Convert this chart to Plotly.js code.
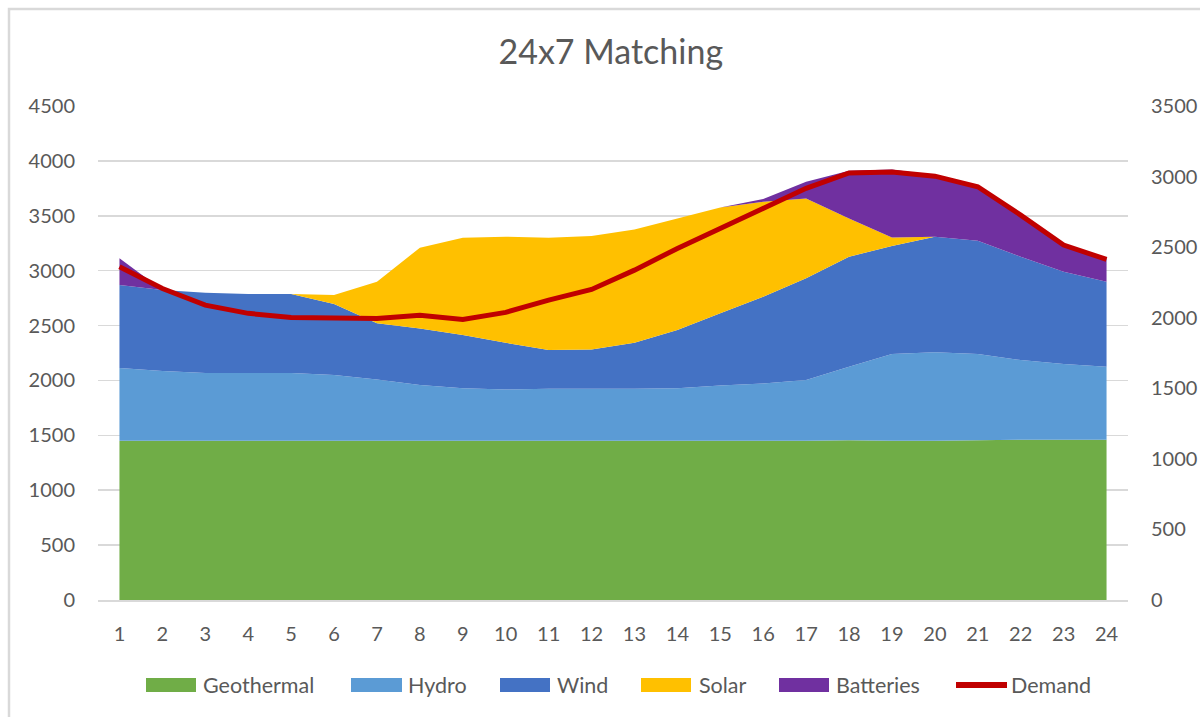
<!DOCTYPE html>
<html>
<head>
<meta charset="utf-8">
<script src="https://cdn.plot.ly/plotly-3.0.1.min.js"></script>
<style>html,body{margin:0;padding:0;background:#fff;}#chart{width:1200px;height:717px;}</style>
</head>
<body>
<div id="chart"></div>
<script>
const hours = [1,2,3,4,5,6,7,8,9,10,11,12,13,14,15,16,17,18,19,20,21,22,23,24];
const geothermal = [1450,1450,1450,1450,1450,1450,1450,1450,1450,1450,1450,1450,1450,1450,1450,1450,1450,1455,1450,1450,1455,1460,1460,1460];
const hydro = [663,635,617,617,617,599,558,508,480,468,474,474,474,480,505,523,554,670,790,806,785,726,689,665];
const wind = [756,738,732,720,720,647,514,516,483,425,353,359,419,529,656,789,926,1002,984,1053,1032,941,841,774];
const solar = [0,0,0,0,0,82,377,735,887,966,1023,1032,1033,1017,965,865,728,349,79,0,0,0,0,0];
const batteries = [243,0,0,0,0,0,0,0,0,0,0,0,0,0,0,25,151,434,619,561,507,379,259,213];
const demand = [2361,2207,2089,2031,2002,1995,1995,2018,1988,2038,2125,2200,2337,2491,2633,2784,2917,3026,3032,3003,2928,2727,2515,2413];
const leftTicks = [0,500,1000,1500,2000,2500,3000,3500,4000,4500];
const rightTicks = [0,500,1000,1500,2000,2500,3000,3500];

const series = [
  {name:'Geothermal', y:geothermal, color:'#70AD47'},
  {name:'Hydro', y:hydro, color:'#5B9BD5'},
  {name:'Wind', y:wind, color:'#4472C4'},
  {name:'Solar', y:solar, color:'#FFC000'},
  {name:'Batteries', y:batteries, color:'#7030A0'}
];

const traces = series.map(s => ({
  type:'scatter', x:hours, y:s.y, name:s.name, stackgroup:'one',
  mode:'none', fillcolor:s.color, line:{width:0}, showlegend:false,
  hoverinfo:'x+y+name'
}));
traces.push({
  type:'scatter', x:hours, y:demand, name:'Demand', yaxis:'y2', mode:'lines',
  line:{color:'#C00000', width:5, shape:'linear'}, showlegend:false
});

// plot area in pixels
const L = 98, R = 1128, T = 106, B = 600;
const px = x => (x - L) / (R - L);
const py = y => (B - y) / (B - T);

const legendItems = [
  {name:'Geothermal', color:'#70AD47', x0:146, x1:196, tx:201, kind:'box'},
  {name:'Hydro', color:'#5B9BD5', x0:351, x1:402, tx:406, kind:'box'},
  {name:'Wind', color:'#4472C4', x0:500, x1:550, tx:555, kind:'box'},
  {name:'Solar', color:'#FFC000', x0:641, x1:691, tx:697, kind:'box'},
  {name:'Batteries', color:'#7030A0', x0:779, x1:829, tx:834, kind:'box'},
  {name:'Demand', color:'#C00000', x0:956, x1:1007, tx:1009, kind:'line'}
];

const shapes = [{
  type:'rect', xref:'paper', yref:'paper',
  x0:px(9), x1:px(1215), y0:py(9), y1:py(730),
  line:{color:'#D9D9D9', width:2.5}, fillcolor:'rgba(0,0,0,0)', layer:'below'
}];
const annotations = [];
legendItems.forEach(it => {
  if (it.kind === 'box') {
    shapes.push({type:'rect', xref:'paper', yref:'paper', x0:px(it.x0), x1:px(it.x1), y0:py(692), y1:py(678),
      line:{width:0}, fillcolor:it.color});
  } else {
    shapes.push({type:'line', xref:'paper', yref:'paper', x0:px(it.x0), x1:px(it.x1), y0:py(685), y1:py(685),
      line:{width:6, color:it.color}});
  }
  annotations.push({xref:'paper', yref:'paper', x:px(it.tx), y:py(685), xanchor:'left', yanchor:'middle',
    text:it.name, showarrow:false, font:{family:'Lato, sans-serif', size:21.5, color:'#595959'}});
});

const tickFont = {family:'Lato, sans-serif', size:20, color:'#595959'};
const layout = {
  width:1200, height:717,
  margin:{l:L, r:1200-R, t:T, b:717-B, pad:0},
  paper_bgcolor:'#ffffff', plot_bgcolor:'#ffffff',
  title:{text:'24x7 Matching', x:0.509, xanchor:'center', y:1-52/717, yanchor:'middle',
    font:{family:'Lato, sans-serif', size:34, color:'#595959'}},
  showlegend:false,
  xaxis:{range:[0.5,24.5], tickmode:'array', tickvals:hours, ticktext:hours.map(String),
    showgrid:false, zeroline:false, showline:true, linecolor:'#D9D9D9', linewidth:1.5,
    ticks:'', tickfont:tickFont, ticklabelstandoff:15, fixedrange:true},
  yaxis:{range:[0,4500], tickmode:'array', tickvals:leftTicks, ticktext:leftTicks.map(String),
    showgrid:true, gridcolor:'#D9D9D9', gridwidth:1.5, zeroline:false, showline:false,
    ticks:'', tickfont:tickFont, ticklabelstandoff:22, fixedrange:true},
  yaxis2:{range:[0,3500], overlaying:'y', side:'right', tickmode:'array', tickvals:rightTicks,
    ticktext:rightTicks.map(String), showgrid:false, zeroline:false, showline:false,
    ticks:'', tickfont:tickFont, ticklabelstandoff:22, fixedrange:true},
  shapes:shapes, annotations:annotations
};
Plotly.newPlot('chart', traces, layout, {displayModeBar:false, staticPlot:true});
</script>
</body>
</html>
